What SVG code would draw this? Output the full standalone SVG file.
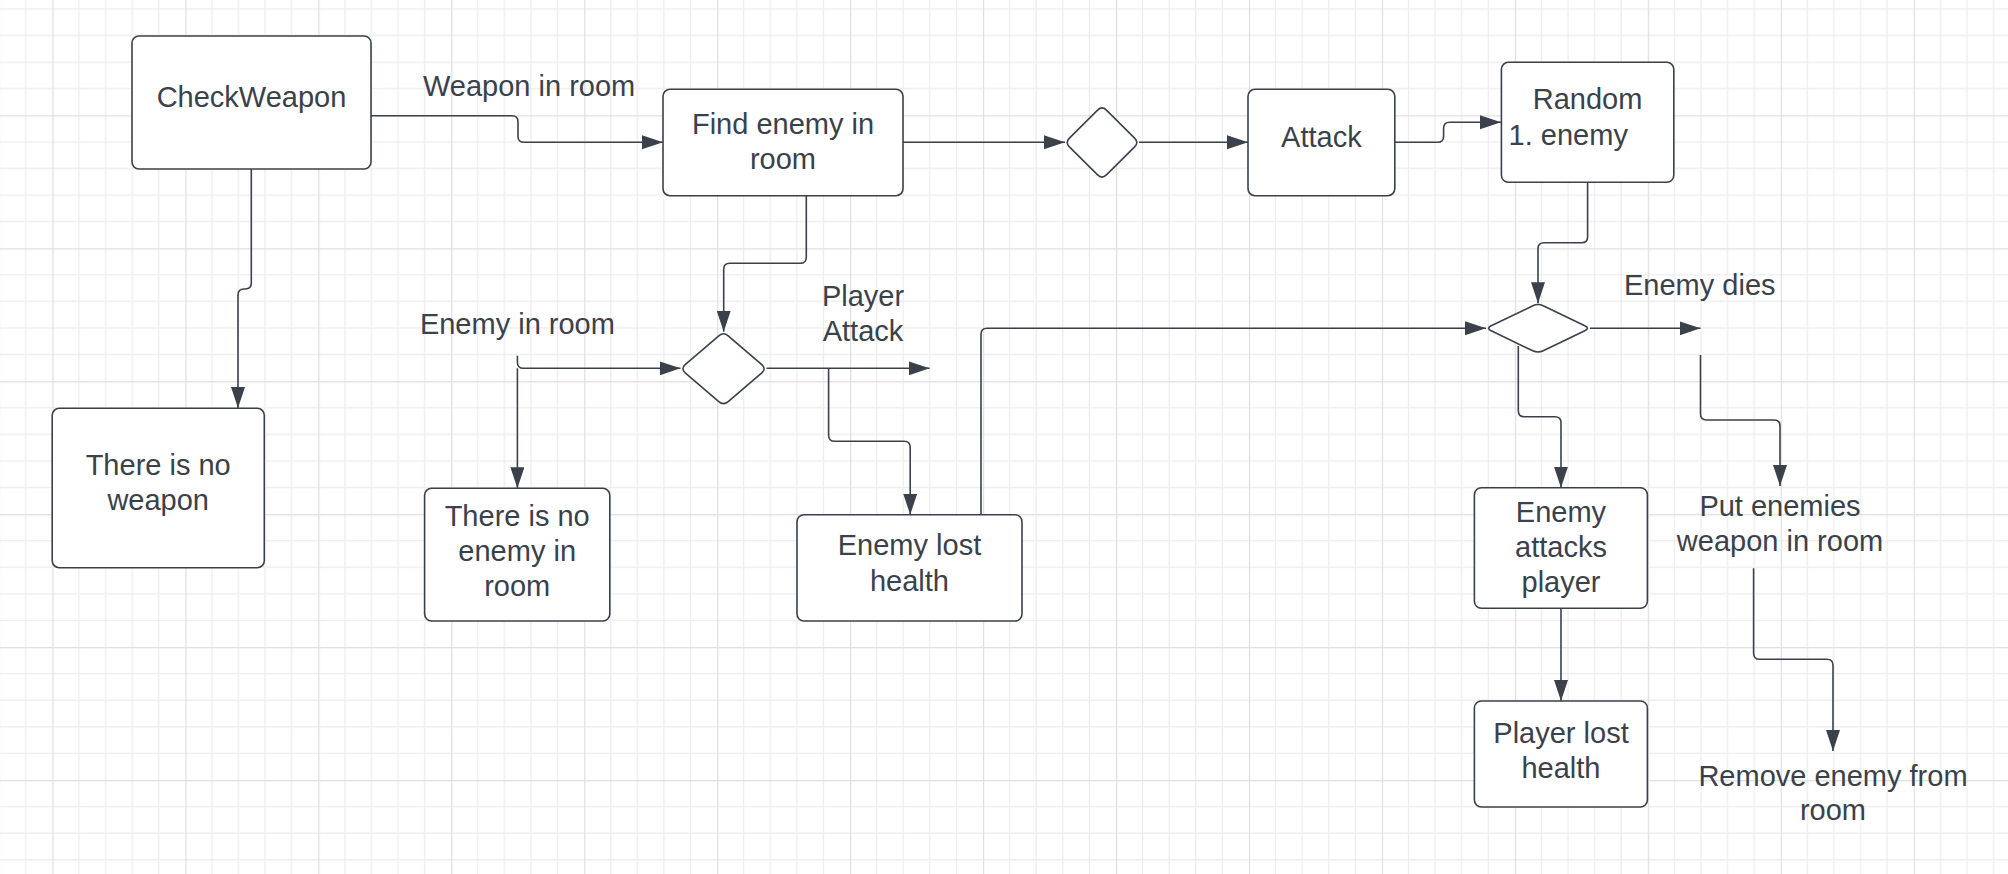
<svg xmlns="http://www.w3.org/2000/svg" width="2008" height="874" viewBox="0 0 2008 874">
<defs>
<pattern id="grid" patternUnits="userSpaceOnUse" x="52.4" y="115.3" width="132.95" height="132.95">
<path d="M26.59,0V132.95M53.18,0V132.95M79.77,0V132.95M106.36,0V132.95M0,26.59H132.95M0,53.18H132.95M0,79.77H132.95M0,106.36H132.95" stroke="#ececec" stroke-width="1.2" fill="none"/>
<path d="M0.5,0V132.95M0,0.5H132.95" stroke="#dedede" stroke-width="1.4" fill="none"/>
</pattern>
<marker id="arr" markerUnits="userSpaceOnUse" markerWidth="22" markerHeight="16" refX="21" refY="7" orient="auto">
<path d="M0,0L21,7L0,14Z" fill="#3a414a"/>
</marker>
<style>
.box{fill:#ffffff;stroke:#3a414a;stroke-width:1.6}
.c{fill:none;stroke:#3a414a;stroke-width:1.6}
.a{marker-end:url(#arr)}
text{font-family:"Liberation Sans",Arial,sans-serif;font-size:29px;fill:#3a414a}
.m{text-anchor:middle}
</style>
</defs>
<rect width="2008" height="874" fill="#ffffff"/>
<rect width="2008" height="874" fill="url(#grid)"/>

<g id="connectors">
<path class="c a" d="M371,115.7H512Q518,115.7 518,121.7V136.3Q518,142.3 524,142.3H663"/>
<path class="c a" d="M251.3,169V283Q251.3,289 245.3,289H244Q238,289 238,295V408"/>
<path class="c a" d="M903,142.3H1065"/>
<path class="c a" d="M1139,142.3H1248"/>
<path class="c a" d="M1394.8,142.3H1437.6Q1443.6,142.3 1443.6,136.3V128.3Q1443.6,122.3 1449.6,122.3H1501"/>
<path class="c a" d="M1587.6,182.3V236.7Q1587.6,242.7 1581.6,242.7H1544Q1538,242.7 1538,248.7V303.3"/>
<path class="c a" d="M1590,328.3H1700.5"/>
<path class="c a" d="M1700.5,355V414Q1700.5,420 1706.5,420H1774Q1780,420 1780,426V486"/>
<path class="c a" d="M1753.6,568.3V653.3Q1753.6,659.3 1759.6,659.3H1827Q1833,659.3 1833,665.3V751"/>
<path class="c a" d="M1518.3,346V410.7Q1518.3,416.7 1524.3,416.7H1555Q1561,416.7 1561,422.7V487.7"/>
<path class="c a" d="M1561,608.3V701"/>
<path class="c a" d="M806.3,195.7V257.3Q806.3,263.3 800.3,263.3H729.7Q723.7,263.3 723.7,269.3V331.7"/>
<path class="c a" d="M517.4,355.7V362.3Q517.4,368.3 523.4,368.3H680.5"/>
<path class="c a" d="M517.4,368.3V488.3"/>
<path class="c a" d="M766.5,368.3H929.6"/>
<path class="c a" d="M828.6,368.3V435.3Q828.6,441.3 834.6,441.3H904.2Q910.2,441.3 910.2,447.3V514.7"/>
<path class="c a" d="M981,514.7V334.3Q981,328.3 987,328.3H1486"/>
</g>

<g id="checkweapon">
<rect class="box" x="132" y="36" width="239" height="133" rx="7"/>
<text class="m" x="251.5" y="107">CheckWeapon</text>
</g>
<g id="label-weapon-in-room">
<text x="423" y="95.7">Weapon in room</text>
</g>
<g id="find-enemy">
<rect class="box" x="663" y="89.3" width="240" height="106.4" rx="7"/>
<text class="m" x="783" y="133.5">Find enemy in</text>
<text class="m" x="783" y="168.5">room</text>
</g>
<g id="decision-1">
<path class="box" d="M1069.4,138.1L1097.6,110.1Q1102,105.7 1106.4,110.1L1134.6,138.1Q1139,142.5 1134.6,146.9L1106.4,174.9Q1102,179.3 1097.6,174.9L1069.4,146.9Q1065,142.5 1069.4,138.1Z"/>
</g>
<g id="attack">
<rect class="box" x="1248" y="89.3" width="146.8" height="106.4" rx="7"/>
<text class="m" x="1321.4" y="146.7">Attack</text>
</g>
<g id="random">
<rect class="box" x="1501.4" y="62.3" width="172.4" height="120" rx="7"/>
<text class="m" x="1587.6" y="109.3">Random</text>
<text x="1508.6" y="145">1. enemy</text>
</g>
<g id="decision-2">
<path class="box" d="M1491.2,325.8L1532.8,305.8Q1538,303.3 1543.2,305.8L1584.8,325.8Q1590,328.3 1584.8,330.8L1543.2,350.8Q1538,353.3 1532.8,350.8L1491.2,330.8Q1486,328.3 1491.2,325.8Z"/>
</g>
<g id="label-enemy-dies">
<text x="1624" y="295">Enemy dies</text>
</g>
<g id="no-weapon">
<rect class="box" x="52.2" y="408.3" width="212.1" height="159.4" rx="7"/>
<text class="m" x="158.2" y="475">There is no</text>
<text class="m" x="158.2" y="510">weapon</text>
</g>
<g id="label-enemy-in-room">
<text class="m" x="517.4" y="334.3">Enemy in room</text>
</g>
<g id="decision-3">
<path class="box" d="M685.2,364.6L718.8,335.8Q723.5,331.7 728.2,335.8L761.8,364.6Q766.5,368.7 761.8,372.8L728.2,401.6Q723.5,405.7 718.8,401.6L685.2,372.8Q680.5,368.7 685.2,364.6Z"/>
</g>
<g id="label-player-attack">
<text class="m" x="863" y="306">Player</text>
<text class="m" x="863" y="341">Attack</text>
</g>
<g id="no-enemy">
<rect class="box" x="424.6" y="488.3" width="185.2" height="132.7" rx="7"/>
<text class="m" x="517.2" y="525.7">There is no</text>
<text class="m" x="517.2" y="561">enemy in</text>
<text class="m" x="517.2" y="596">room</text>
</g>
<g id="enemy-lost-health">
<rect class="box" x="797" y="514.7" width="225" height="106.3" rx="7"/>
<text class="m" x="909.5" y="555.3">Enemy lost</text>
<text class="m" x="909.5" y="590.7">health</text>
</g>
<g id="enemy-attacks-player">
<rect class="box" x="1474.4" y="487.7" width="173" height="120.6" rx="7"/>
<text class="m" x="1561" y="521.7">Enemy</text>
<text class="m" x="1561" y="556.7">attacks</text>
<text class="m" x="1561" y="591.7">player</text>
</g>
<g id="player-lost-health">
<rect class="box" x="1474.4" y="701" width="173" height="106" rx="7"/>
<text class="m" x="1561" y="742.7">Player lost</text>
<text class="m" x="1561" y="777.7">health</text>
</g>
<g id="label-put-weapon">
<text class="m" x="1780" y="515.7">Put enemies</text>
<text class="m" x="1780" y="550.7">weapon in room</text>
</g>
<g id="label-remove-enemy">
<text class="m" x="1833" y="785.7">Remove enemy from</text>
<text class="m" x="1833" y="820">room</text>
</g>
</svg>
